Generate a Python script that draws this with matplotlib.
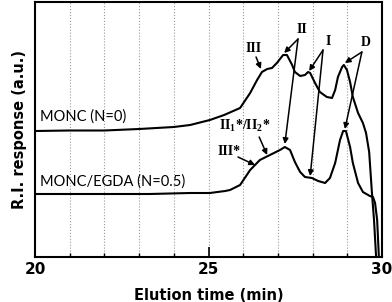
import matplotlib
matplotlib.use('Agg')
import matplotlib.pyplot as plt
from matplotlib.ticker import MultipleLocator

# elution time (min) vs R.I. response (arbitrary units)
t_monc = [20.0, 21.0, 22.0, 23.0, 24.0, 24.47, 25.04, 25.45, 25.91, 26.2, 26.4, 26.54,
          26.69, 26.83, 26.97, 27.15, 27.26, 27.41, 27.49, 27.64, 27.78, 27.87, 27.93,
          28.07, 28.21, 28.41, 28.56, 28.65, 28.73, 28.85, 28.9, 28.99, 29.08, 29.16,
          29.31, 29.45, 29.54, 29.63, 29.71, 29.77, 29.83]
r_monc = [126, 126.5, 126.5, 128, 130, 132, 137, 142, 149, 164, 177, 185,
          188, 189, 194, 202, 202, 192, 185, 181, 182, 185, 184,
          174, 165, 160, 159, 167, 180, 190, 192, 187, 175, 160,
          144, 134, 124, 105, 64, 37, 0]

t_egda = [20.0, 21.87, 23.31, 24.47, 25.04, 25.48, 25.62, 25.91, 26.2, 26.48, 26.77,
          27.06, 27.2, 27.35, 27.49, 27.64, 27.78, 27.98, 28.16, 28.36, 28.5, 28.65,
          28.79, 28.88, 28.96, 29.08, 29.16, 29.31, 29.45, 29.65, 29.74, 29.8, 29.86, 29.91]
r_egda = [63, 63, 63, 64, 64, 66, 67, 72, 87, 97, 102,
          107, 110, 107, 95, 85, 80, 79, 76, 74, 79, 94,
          117, 126, 126, 110, 94, 74, 65, 61, 60, 54, 37, 0]

series_names = ['MONC (N=0)', 'MONC/EGDA (N=0.5)']

# peak labels: text, text position, arrow start, arrow heads
peak_labels = [
    ('III', (26.31, 208), (26.37, 200), [(26.51, 188)]),
    ('II', (27.69, 227), (27.58, 218), [(27.18, 204), (27.2, 113)]),
    ('I', (28.44, 215), (28.3, 207), [(27.9, 186), (27.93, 81)]),
    ('D', (29.54, 214), (29.42, 205), [(28.93, 194), (28.93, 128)]),
    ('II$_1$*/II$_2$*', (26.05, 131), (26.46, 120), [(26.69, 102)]),
    ('III*', (25.59, 105), (25.85, 100), [(26.34, 92)]),
]

plt.rcParams['mathtext.fontset'] = 'custom'
plt.rcParams['mathtext.rm'] = 'Liberation Serif:bold'
plt.rcParams['mathtext.it'] = 'Liberation Serif:bold'

fig = plt.figure(figsize=(3.92, 3.02), dpi=100)
ax = fig.add_axes([0.0893, 0.149, 0.8852, 0.8444])

ax.plot(t_monc, r_monc, color='black', lw=1.5, solid_joinstyle='round')
ax.plot(t_egda, r_egda, color='black', lw=1.5, solid_joinstyle='round')

ax.text(20.15, 133, series_names[0], fontsize=10.5, family='Lato', va='bottom')
ax.text(20.15, 68, series_names[1], fontsize=10.5, family='Lato', va='bottom')

for label, txt_xy, start, heads in peak_labels:
    ax.text(txt_xy[0], txt_xy[1], label, fontsize=10, family='Liberation Serif',
            fontweight='bold', ha='center', va='center')
    for h in heads:
        ax.annotate('', xy=h, xytext=start,
                    arrowprops=dict(arrowstyle='-|>', color='black', lw=1.1,
                                    mutation_scale=8, shrinkA=0, shrinkB=0))

ax.set_xlim(20, 30)
ax.set_ylim(0, 255)
ax.xaxis.set_major_locator(MultipleLocator(5))
ax.xaxis.set_minor_locator(MultipleLocator(1))
ax.set_yticks([])
ax.grid(True, which='both', axis='x', color='#999999', linestyle=':', lw=0.8)
ax.tick_params(axis='x', which='major', direction='in', length=7, width=1.2)
ax.tick_params(axis='x', which='minor', direction='in', length=3, width=1)
for lab in ax.get_xticklabels():
    lab.set_fontweight('bold')
    lab.set_fontsize(11)
for s in ax.spines.values():
    s.set_linewidth(1.5)

ax.set_xlabel('Elution time (min)', fontweight='bold', fontsize=10.5, labelpad=8)
ax.set_ylabel('R.I. response (a.u.)', fontweight='bold', fontsize=10.5, labelpad=6)

fig.savefig('out.png', dpi=100)
